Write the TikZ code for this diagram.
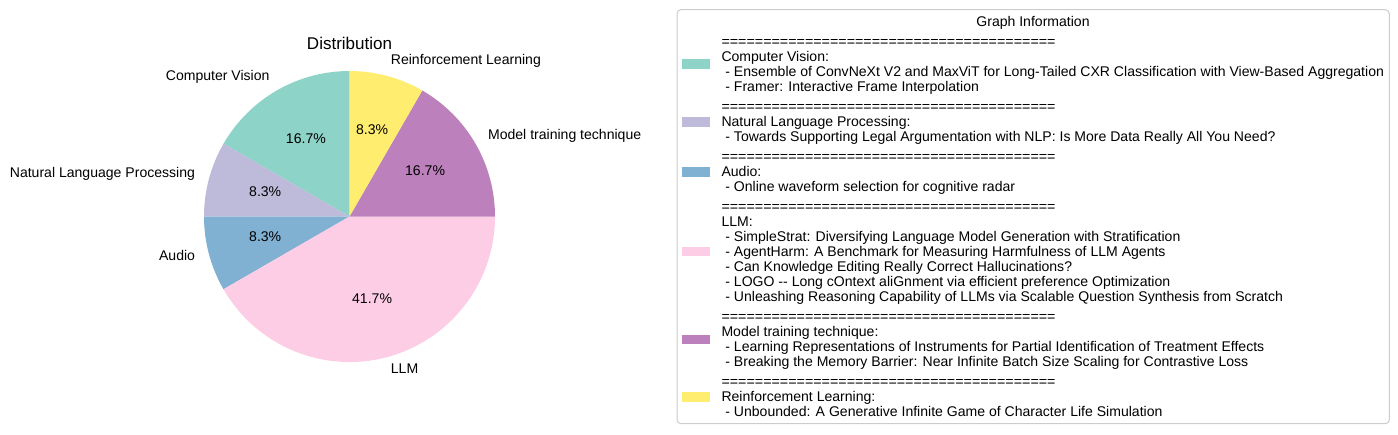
\documentclass[tikz,border=0pt]{standalone}
\usepackage{fontspec}
\setmainfont{Liberation Sans}
\definecolor{cvc}{HTML}{8DD3C7}
\definecolor{nlpc}{HTML}{BEBADA}
\definecolor{audc}{HTML}{80B1D3}
\definecolor{llmc}{HTML}{FCCDE5}
\definecolor{mtc}{HTML}{BC80BD}
\definecolor{rlc}{HTML}{FFED6F}
\definecolor{framec}{HTML}{CCCCCC}
\newcommand{\eqline}{{\fontsize{14.3}{15}\selectfont ========================================}}
\begin{document}
\begin{tikzpicture}[x=1pt,y=-1pt,
  every node/.style={inner sep=0pt,outer sep=0pt,font=\fontsize{14.05}{15}\selectfont},
  lab/.style={anchor=mid},
  lg/.style={anchor=base west},
  patch/.style={minimum width=28pt,minimum height=9.6pt,anchor=west}]
\useasboundingbox (0,0) rectangle (1398,434);
\coordinate (C) at (349.5,216.5);
\def\R{145.5}
% pie slices (angles negated because y points down)
\fill[cvc]  (C) -- ++(-90:\R)  arc[start angle=-90, end angle=-150,radius=\R] -- cycle;
\fill[nlpc] (C) -- ++(-150:\R) arc[start angle=-150,end angle=-180,radius=\R] -- cycle;
\fill[audc] (C) -- ++(-180:\R) arc[start angle=-180,end angle=-210,radius=\R] -- cycle;
\fill[llmc] (C) -- ++(-210:\R) arc[start angle=-210,end angle=-360,radius=\R] -- cycle;
\fill[mtc]  (C) -- ++(0:\R)    arc[start angle=0,   end angle=-60, radius=\R] -- cycle;
\fill[rlc]  (C) -- ++(-60:\R)  arc[start angle=-60, end angle=-90, radius=\R] -- cycle;
% title
\node[anchor=base,font=\fontsize{17}{20}\selectfont] (title) at (349.5,49.3) {Distribution};
% outer labels
\node[anchor=mid east] (lcv)  at (269.5,78)    {Computer Vision};
\node[anchor=mid west] (lrl)  at (390.9,62)    {Reinforcement Learning};
\node[anchor=mid west] (lmt)  at (488.1,136.5) {Model training technique};
\node[anchor=mid east] (lnlp) at (195.0,175.1) {Natural Language Processing};
\node[anchor=mid east] (laud) at (195.0,257.9) {Audio};
\node[anchor=mid west] (lllm) at (390.9,371.0) {LLM};
% percentages
\node[lab] (pcv)  at (305.9,140.9) {16.7\%};
\node[lab] (prl)  at (372.1,132.2) {8.3\%};
\node[lab] (pmt)  at (425.1,172.9) {16.7\%};
\node[lab] (pnlp) at (265.2,193.9) {8.3\%};
\node[lab] (paud) at (265.2,239.1) {8.3\%};
\node[lab] (pllm) at (372.1,300.8) {41.7\%};
% legend frame
\draw[framec,fill=white,line width=1pt,rounded corners=4pt] (677,9.7) rectangle (1389.3,423.7);
\node[anchor=base] (ltitle) at (1033,26) {Graph Information};
% entry 1
\node[patch,fill=cvc] (k1) at (682,64.2) {};
\node[lg] (a0) at (721.5,46.7) {\eqline};
\node[lg] (a1) at (721.5,61.7) {Computer Vision:};
\node[lg] (a2) at (721.5,76.7) {\ - Ensemble of ConvNeXt V2 and MaxViT for Long-Tailed CXR Classification with View-Based Aggregation};
\node[lg] (a3) at (721.5,91.7) {\ - Framer: Interactive Frame Interpolation};
% entry 2
\node[patch,fill=nlpc] (k2) at (682,121.8) {};
\node[lg] (b0) at (721.5,111.56) {\eqline};
\node[lg] (b1) at (721.5,126.56) {Natural Language Processing:};
\node[lg] (b2) at (721.5,141.56) {\ - Towards Supporting Legal Argumentation with NLP: Is More Data Really All You Need?};
% entry 3
\node[patch,fill=audc] (k3) at (682,171.7) {};
\node[lg] (c0) at (721.5,161.42) {\eqline};
\node[lg] (c1) at (721.5,176.42) {Audio:};
\node[lg] (c2) at (721.5,191.42) {\ - Online waveform selection for cognitive radar};
% entry 4
\node[patch,fill=llmc] (k4) at (682,251.6) {};
\node[lg] (d0) at (721.5,211.28) {\eqline};
\node[lg] (d1) at (721.5,226.28) {LLM:};
\node[lg] (d2) at (721.5,241.28) {\ - SimpleStrat: Diversifying Language Model Generation with Stratification};
\node[lg] (d3) at (721.5,256.28) {\ - AgentHarm: A Benchmark for Measuring Harmfulness of LLM Agents};
\node[lg] (d4) at (721.5,271.28) {\ - Can Knowledge Editing Really Correct Hallucinations?};
\node[lg] (d5) at (721.5,286.28) {\ - LOGO -\kern0pt- Long cOntext aliGnment via efficient preference Optimization};
\node[lg] (d6) at (721.5,301.28) {\ - Unleashing Reasoning Capability of LLMs via Scalable Question Synthesis from Scratch};
% entry 5
\node[patch,fill=mtc] (k5) at (682,339.3) {};
\node[lg] (e0) at (721.5,321.14) {\eqline};
\node[lg] (e1) at (721.5,336.14) {Model training technique:};
\node[lg] (e2) at (721.5,351.14) {\ - Learning Representations of Instruments for Partial Identification of Treatment Effects};
\node[lg] (e3) at (721.5,366.14) {\ - Breaking the Memory Barrier: Near Infinite Batch Size Scaling for Contrastive Loss};
% entry 6
\node[patch,fill=rlc] (k6) at (682,396.8) {};
\node[lg] (f0) at (721.5,386.0) {\eqline};
\node[lg] (f1) at (721.5,401.0) {Reinforcement Learning:};
\node[lg] (f2) at (721.5,416.0) {\ - Unbounded: A Generative Infinite Game of Character Life Simulation};
\end{tikzpicture}
\end{document}
